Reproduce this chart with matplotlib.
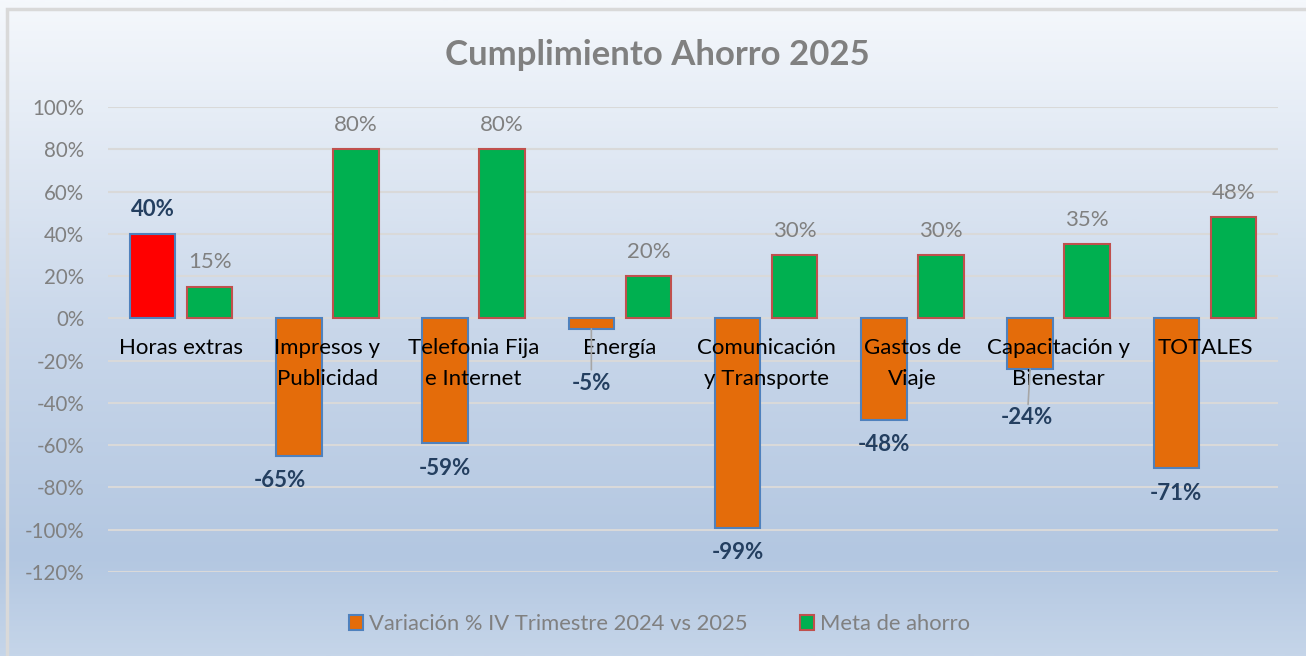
import matplotlib.pyplot as plt
import numpy as np
from matplotlib.colors import LinearSegmentedColormap
from matplotlib.patches import Rectangle, Patch

categorias = ["Horas extras", "Impresos y\nPublicidad", "Telefonia Fija\ne Internet", "Energía",
              "Comunicación\ny Transporte", "Gastos de\nViaje", "Capacitación y\nBienestar", "TOTALES"]
variacion = [0.40, -0.65, -0.59, -0.05, -0.99, -0.48, -0.24, -0.71]
meta = [0.15, 0.80, 0.80, 0.20, 0.30, 0.30, 0.35, 0.48]
yticks = [-1.2, -1.0, -0.8, -0.6, -0.4, -0.2, 0.0, 0.2, 0.4, 0.6, 0.8, 1.0]
serie1 = "Variación % IV Trimestre 2024 vs 2025"
serie2 = "Meta de ahorro"

plt.rcParams['font.family'] = ['Lato', 'DejaVu Sans']

fig = plt.figure(figsize=(13.06, 6.56), dpi=100)

# fondo degradado
bg = fig.add_axes([0, 0, 1, 1])
bg.set_axis_off()
grad = np.linspace(0, 1, 400).reshape(-1, 1)
cmap = LinearSegmentedColormap.from_list('fondo', [(0, '#F5F8FC'), (0.5, '#C9D7EA'),
                                                   (0.85, '#B3C7E1'), (1, '#C5D5E9')])
bg.imshow(grad, aspect='auto', cmap=cmap, extent=[0, 1, 0, 1], origin='upper')
bg.set_xlim(0, 1)
bg.set_ylim(0, 1)
bg.add_patch(Rectangle((7 / 1306, -0.05), 1.2, 1 - 9 / 656 + 0.05, fill=False,
                       edgecolor='#D9D9D9', lw=2.5))

ax = fig.add_axes([108 / 1306, 84 / 656, 1170 / 1306, 465 / 656])
ax.patch.set_alpha(0)

x = np.arange(len(categorias))
w = 0.31
off = 0.195
col1 = ['#FF0000'] + ['#E46C0A'] * (len(variacion) - 1)
ax.bar(x - off, variacion, w, color=col1, edgecolor='#4F81BD', lw=1.5, zorder=3)
ax.bar(x + off, meta, w, color='#00B050', edgecolor='#C0504D', lw=1.5, zorder=3)

ax.set_xlim(-0.5, len(categorias) - 0.5)
ax.set_ylim(-1.2, 1.0)
ax.set_yticks(yticks)
ax.set_yticklabels([f"{round(v * 100)}%" for v in yticks])
ax.set_xticks([])
ax.yaxis.grid(True, color='#D9D9D9', lw=1.5)
ax.set_axisbelow(True)
for s in ax.spines.values():
    s.set_visible(False)
ax.tick_params(axis='y', length=0, pad=17, labelsize=14.8, labelcolor='#808080')

# etiquetas de categoria junto al eje
for i, c in enumerate(categorias):
    ax.annotate(c, xy=(i, 0), xytext=(0, -14), textcoords='offset points', ha='center',
                va='top', fontsize=16, linespacing=1.7, color='black', zorder=4)

# etiquetas de datos
ajustes = {1: (-14, 0), 3: (0, -21), 6: (-2, -17)}
for i, v in enumerate(variacion):
    dy = 17.5 if v > 0 else -18
    dx, extra = ajustes.get(i, (0, 0))
    arrow = None
    if i in (3, 6):
        arrow = dict(arrowstyle='-', color='#A6A6A6', lw=1.2, shrinkA=0, shrinkB=0)
    ax.annotate(f"{round(v * 100)}%", xy=(i - off, v), xytext=(dx, dy + extra),
                textcoords='offset points', ha='center', va='center', fontsize=16,
                fontweight='bold', color='#243F60', arrowprops=arrow, zorder=5)
for i, v in enumerate(meta):
    ax.annotate(f"{round(v * 100)}%", xy=(i + off, v), xytext=(0, 17.5),
                textcoords='offset points', ha='center', va='center', fontsize=16,
                color='#808080', zorder=5)

fig.text(0.503, 1 - 55 / 656, "Cumplimiento Ahorro 2025", ha='center', va='center',
         fontsize=25, fontweight='bold', color='#808080')

handles = [Patch(facecolor='#E46C0A', edgecolor='#4F81BD', lw=1.5),
           Patch(facecolor='#00B050', edgecolor='#C0504D', lw=1.5)]
fig.legend(handles, [serie1, serie2], loc='center', bbox_to_anchor=(0.505, 32 / 656), ncol=2,
           frameon=False, fontsize=15.8, labelcolor='#808080', handlelength=0.65,
           handleheight=0.65, handletextpad=0.25, columnspacing=2.4)

fig.savefig('out.png', dpi=100)
